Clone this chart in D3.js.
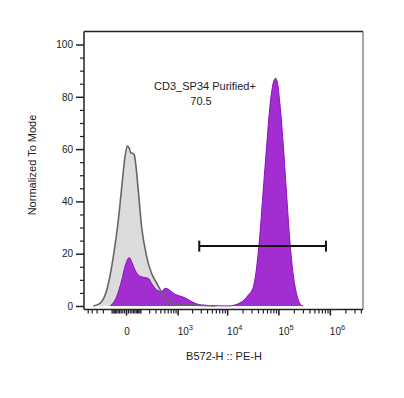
<!DOCTYPE html>
<html><head><meta charset="utf-8">
<script src="https://cdn.jsdelivr.net/npm/d3@7"></script>
<style>body{margin:0;background:#fff}svg{display:block}text{font-family:"Liberation Sans",Arial,sans-serif;fill:#222}</style>
</head><body><svg id="c" width="404" height="398"></svg>
<script>
// ---- data ----
const controlX = [-364,-242,-150,-84,-45,-23,-5,6.6,17.4,25.7,38.3,49.4,62,80,111,167,234,325,474,684,1122,2150,5720];
const controlY = [0,1.0,6.1,18.9,32.9,45.6,57.1,61.2,60.3,58.6,58.4,57.7,53.3,44.4,30.3,18.9,12.5,8.7,4.2,1.6,0.4,0.3,0];
const sampleX = [-115,-57,-23,-5,11.9,17.4,31.9,54.4,80,127,188,234,325,433,521,622,797,1122,1517,1985,3065,5720,10630,17980,25990,32470,37790,43760,50740,58960,68310,79200,88120,96330,106800,123800,143700,166600,193100,224700,260600,302000];
const sampleY = [0,3.6,10.0,15.1,18.3,18.5,16.9,13.8,11.9,11.0,10.6,8.7,6.1,5.5,6.8,6.4,4.9,3.8,2.9,1.6,0.4,0.1,0,1.2,4.2,7.3,14.9,27.5,44.3,60.9,76.2,85.2,87.1,85.2,77.5,62.2,43.2,25.2,12.4,4.8,1.0,0];
const yMajor = [0,20,40,60,80,100];
const yMinor = [5,10,15,25,30,35,45,50,55,65,70,75,85,90,95];
const xMajor = [0,1e3,1e4,1e5,1e6];
const xMajorExp = ["",3,4,5,6];
const xMinor = [-500,-400,-300,-200,-100,-90,-80,-70,-60,-50,-40,-30,-20,-10,10,20,30,40,50,60,70,80,90,100,200,300,400,500,600,700,800,900,
  2e3,3e3,4e3,5e3,6e3,7e3,8e3,9e3,2e4,3e4,4e4,5e4,6e4,7e4,8e4,9e4,2e5,3e5,4e5,5e5,6e5,7e5,8e5,9e5,2e6,3e6,4e6];
const gateRange = [2800, 840000];
const gateLevel = 22.9;
const gateName = "CD3_SP34 Purified+";
const gateValue = "70.5";
const xTitle = "B572-H :: PE-H";
const yTitle = "Normalized To Mode";

// ---- chart ----
const svg = d3.select("#c");
const L=84, R=363, T=31.5, B=309.5;
const x = d3.scaleSymlog().constant(110).domain([-610, 4.4e6]).range([L, R]);
const y = d3.scaleLinear().domain([0,100]).range([306, 44.5]);

const control = controlX.map((v,i)=>({x:v,y:controlY[i]}));
const sample = sampleX.map((v,i)=>({x:v,y:sampleY[i]}));

const area = d3.area().x(d=>x(d.x)).y0(y(0)).y1(d=>y(d.y)).curve(d3.curveMonotoneX);
const line = d3.line().x(d=>x(d.x)).y(d=>y(d.y)).curve(d3.curveMonotoneX);

const g = svg.append("g");
g.append("rect").attr("x",L).attr("y",T).attr("width",R-L).attr("height",B-T).attr("fill","#fff");

g.append("path").datum(control).attr("d",area).attr("fill","#dcdcdc");
g.append("path").datum(sample).attr("d",area).attr("fill","#a22ed2");
g.append("path").datum(sample).attr("d",line).attr("fill","none").attr("stroke","#8a10bd").attr("stroke-width",1);
g.append("path").datum(control).attr("d",line).attr("fill","none").attr("stroke","#666").attr("stroke-width",1.6);

// frame
svg.append("line").attr("x1",R).attr("x2",R).attr("y1",T).attr("y2",B).attr("stroke","#888").attr("stroke-width",1.5);
svg.append("line").attr("x1",L).attr("x2",R).attr("y1",T).attr("y2",T).attr("stroke","#222").attr("stroke-width",1.5);

// y axis
const ya = svg.append("g").attr("transform",`translate(${L},0)`)
  .call(d3.axisLeft(y).tickValues(yMajor).tickSize(8).tickPadding(3).tickFormat(d3.format("d")));
ya.select(".domain").attr("d",`M0,${T}V${B}`).attr("stroke","#222").attr("stroke-width",1.5);
ya.selectAll(".tick line").attr("stroke","#222").attr("stroke-width",1.5);
ya.selectAll("text").attr("font-size",10).attr("fill","#222").attr("font-family","Liberation Sans, Arial");
const ym = svg.append("g").attr("transform",`translate(${L},0)`)
  .call(d3.axisLeft(y).tickValues(yMinor).tickSize(4).tickFormat(""));
ym.select(".domain").remove();
ym.selectAll(".tick line").attr("stroke","#222").attr("stroke-width",1.2);

// x axis
const xa = svg.append("g").attr("transform",`translate(0,${B})`)
  .call(d3.axisBottom(x).tickValues(xMajor).tickSize(6).tickFormat(""));
xa.select(".domain").attr("d",`M${L},0H${R}`).attr("stroke","#222").attr("stroke-width",1.5);
xa.selectAll(".tick line").attr("stroke","#222").attr("stroke-width",1.6);
const xm = svg.append("g").attr("transform",`translate(0,${B})`)
  .call(d3.axisBottom(x).tickValues(xMinor).tickSize(4).tickFormat(""));
xm.select(".domain").remove();
xm.selectAll(".tick line").attr("stroke","#222").attr("stroke-width",1.2);

xMajor.forEach((v,i)=>{
  const px = x(v);
  if (xMajorExp[i]==="") {
    svg.append("text").attr("x",px+1).attr("y",335).attr("text-anchor","middle").attr("font-size",10).text("0");
  } else {
    const t = svg.append("text").attr("x",px).attr("y",335).attr("font-size",10);
    t.append("tspan").text("10");
    t.append("tspan").attr("dy",-5).attr("font-size",7.5).text(xMajorExp[i]);
  }
});

// gate
const gy = y(gateLevel), gx1 = x(gateRange[0]), gx2 = x(gateRange[1]);
svg.append("line").attr("x1",gx1).attr("x2",gx2).attr("y1",gy).attr("y2",gy).attr("stroke","#111").attr("stroke-width",2);
[gx1,gx2].forEach(px=>svg.append("line").attr("x1",px).attr("x2",px).attr("y1",gy-5.5).attr("y2",gy+5.5).attr("stroke","#111").attr("stroke-width",2));
svg.append("text").attr("x",205).attr("y",90).attr("text-anchor","middle").attr("font-size",11).text(gateName);
svg.append("text").attr("x",201).attr("y",105).attr("text-anchor","middle").attr("font-size",11).text(gateValue);

// titles
svg.append("text").attr("x",224).attr("y",360).attr("text-anchor","middle").attr("font-size",11).text(xTitle);
svg.append("text").attr("transform","translate(36,165) rotate(-90)").attr("text-anchor","middle").attr("font-size",11).text(yTitle);
</script></body></html>
